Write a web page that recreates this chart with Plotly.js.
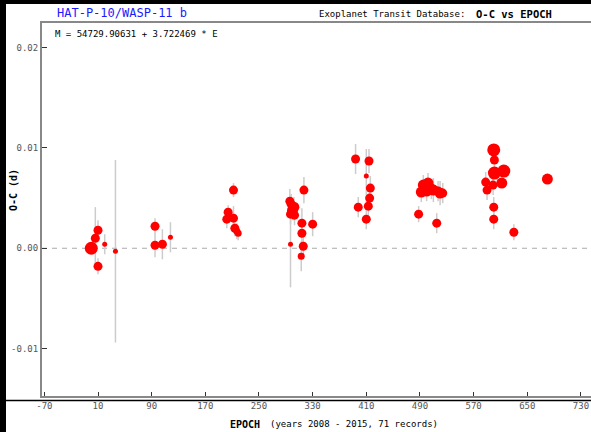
<!DOCTYPE html>
<html>
<head>
<meta charset="utf-8">
<script src="https://cdn.plot.ly/plotly-3.0.1.min.js"></script>
<style>
html,body{margin:0;padding:0;background:#fff;}
#chart{width:591px;height:432px;}
</style>
</head>
<body>
<div id="chart"></div>
<script>
// Epoch numbers
const epoch = [0, 6, 10, 10, 20, 36, 95, 95, 106, 118,
  204, 202, 212, 212, 214, 217, 219,
  296, 298, 300, 302, 297, 303, 297, 317, 314, 314, 316, 313, 330,
  394, 398, 414, 410, 416, 415, 413, 410,
  488, 495, 502, 492, 500, 507, 510, 517, 520, 524, 515,
  600, 601, 615, 601, 588, 599, 612, 590, 600, 600, 630, 680];
// O-C values (days)
const oc = [0.0000, 0.0010, 0.0018, -0.0018, 0.0004, -0.0003, 0.0022, 0.0003, 0.0004, 0.0011,
  0.0036, 0.0029, 0.0058, 0.0030, 0.0020, 0.0017, 0.0015,
  0.0047, 0.0044, 0.0038, 0.0041, 0.0034, 0.0033, 0.0004, 0.0058, 0.0025, 0.0015, 0.0002, -0.0008, 0.0024,
  0.0089, 0.0041, 0.0087, 0.0072, 0.0060, 0.0050, 0.0042, 0.0029,
  0.0034, 0.0063, 0.0065, 0.0056, 0.0057, 0.0059, 0.0058, 0.0057, 0.0055, 0.0055, 0.0025,
  0.0098, 0.0088, 0.0077, 0.0075, 0.0066, 0.0063, 0.0065, 0.0058, 0.0041, 0.0029, 0.0016, 0.0069];
// O-C uncertainties (days)
const ocErr = [0.0004, 0.0031, 0.0010, 0.0008, 0.0010, 0.0091, 0.0008, 0.0012, 0.0015, 0.0015,
  0.0007, 0.0009, 0.0007, 0.0012, 0.0008, 0.0008, 0.0007,
  0.0012, 0.0010, 0.0010, 0.0010, 0.0010, 0.0010, 0.0043, 0.0013, 0.0015, 0.0010, 0.0012, 0.0015, 0.0012,
  0.0015, 0.0010, 0.0012, 0.0027, 0.0012, 0.0010, 0.0010, 0.0010,
  0.0008, 0.0010, 0.0010, 0.0010, 0.0010, 0.0010, 0.0012, 0.0010, 0.0012, 0.0010, 0.0010,
  0.0005, 0.0008, 0.0005, 0.0006, 0.0010, 0.0010, 0.0005, 0.0010, 0.0010, 0.0010, 0.0008, 0.0004];
// Data quality (1 = low ... 5 = high)
const quality = [5, 3, 3, 3, 1, 1, 3, 3, 3, 1,
  3, 3, 3, 3, 3, 2, 2,
  3, 3, 4, 4, 3, 3, 1, 3, 3, 3, 3, 2, 3,
  3, 3, 3, 1, 3, 3, 3, 3,
  3, 4, 4, 4, 4, 4, 4, 3, 4, 3, 3,
  5, 3, 5, 5, 3, 3, 4, 3, 3, 3, 3, 4];
const xTicks = [-70, 10, 90, 170, 250, 330, 410, 490, 570, 650, 730];
const yTicks = [-0.01, 0.00, 0.01, 0.02];
const yTickText = ['-0.01', '0.00', '0.01', '0.02'];

const W = 591, H = 432, L = 42, R = 0, T = 23, B = 36;
const pw = W - L - R, ph = H - T - B;
const px = v => (v - L) / pw;          // pixel x -> paper
const py = v => (H - B - v) / ph;      // pixel y -> paper
const mono = 'DejaVu Sans Mono';

const trace = {
  x: epoch, y: oc, type: 'scatter', mode: 'markers',
  marker: {color: '#ff0000', opacity: 1, size: quality.map(q => 3 + 2 * q), line: {width: 0}},
  error_y: {type: 'data', array: ocErr, visible: true, color: '#cccccc', thickness: 1.5, width: 0},
  hoverinfo: 'x+y'
};

const layout = {
  width: W, height: H,
  margin: {l: L, r: R, t: T, b: B, pad: 0},
  paper_bgcolor: '#ffffff', plot_bgcolor: '#ffffff',
  showlegend: false,
  font: {family: mono, size: 9, color: '#555'},
  xaxis: {
    range: [-73.5, 745], tickvals: xTicks, ticktext: xTicks.map(String),
    ticks: 'inside', ticklen: 4, tickwidth: 1, tickcolor: '#333',
    showline: true, linecolor: '#888', linewidth: 2, mirror: true,
    showgrid: false, zeroline: false,
    tickfont: {family: mono, size: 9, color: '#555'}
  },
  yaxis: {
    range: [-0.01473, 0.02246], tickvals: yTicks, ticktext: yTickText,
    ticks: 'inside', ticklen: 5, tickwidth: 1, tickcolor: '#333',
    showline: true, linecolor: '#888', linewidth: 2,
    showgrid: false, zeroline: false,
    tickfont: {family: mono, size: 9, color: '#555'}
  },
  shapes: [
    {type: 'line', xref: 'paper', yref: 'y', x0: 0, x1: 1, y0: 0, y1: 0,
     line: {color: '#aaaaaa', width: 1, dash: '5px,5px'}, layer: 'below'},
    {type: 'line', xref: 'paper', yref: 'paper', x0: px(6), x1: px(W), y0: py(400.5), y1: py(400.5),
     line: {color: '#000', width: 1.5}},
    {type: 'rect', xref: 'paper', yref: 'paper', x0: px(0), x1: px(6), y0: py(H), y1: py(0),
     fillcolor: '#000', line: {width: 0}},
    {type: 'rect', xref: 'paper', yref: 'paper', x0: px(0), x1: px(W), y0: py(4), y1: py(0),
     fillcolor: '#000', line: {width: 0}}
  ],
  annotations: [
    {text: 'HAT-P-10/WASP-11 b', xref: 'paper', yref: 'paper', x: px(55), y: py(13),
     xanchor: 'left', yanchor: 'middle', showarrow: false,
     font: {family: mono, size: 12, color: '#1a1aff'}},
    {text: 'Exoplanet Transit Database:', xref: 'paper', yref: 'paper', x: px(317), y: py(14),
     xanchor: 'left', yanchor: 'middle', showarrow: false,
     font: {family: mono, size: 9, color: '#000'}},
    {text: '<b>O-C vs EPOCH</b>', xref: 'paper', yref: 'paper', x: px(474), y: py(14),
     xanchor: 'left', yanchor: 'middle', showarrow: false,
     font: {family: mono, size: 10.5, color: '#000'}},
    {text: 'M = 54729.90631 + 3.722469 * E', xref: 'paper', yref: 'paper', x: px(53), y: py(34),
     xanchor: 'left', yanchor: 'middle', showarrow: false,
     font: {family: mono, size: 9, color: '#000'}},
    {text: '<b>EPOCH</b>', xref: 'paper', yref: 'paper', x: px(228), y: py(424),
     xanchor: 'left', yanchor: 'middle', showarrow: false,
     font: {family: mono, size: 10, color: '#000'}},
    {text: '(years 2008 - 2015, 71 records)', xref: 'paper', yref: 'paper', x: px(268), y: py(424),
     xanchor: 'left', yanchor: 'middle', showarrow: false,
     font: {family: mono, size: 9, color: '#000'}},
    {text: '<b>O-C (d)</b>', xref: 'paper', yref: 'paper', x: px(13), y: py(190),
     xanchor: 'center', yanchor: 'middle', showarrow: false, textangle: -90,
     font: {family: mono, size: 10, color: '#000'}}
  ]
};

Plotly.newPlot('chart', [trace], layout, {displayModeBar: false, staticPlot: true});
</script>
</body>
</html>
